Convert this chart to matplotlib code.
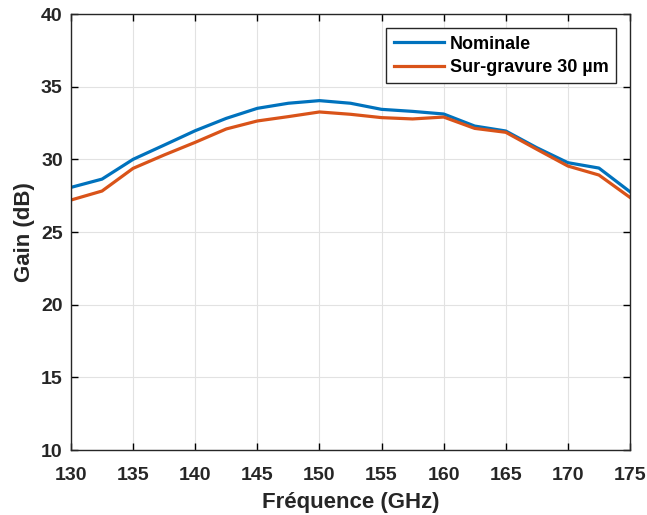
import matplotlib
matplotlib.use("Agg")
import matplotlib.pyplot as plt

freq = [130, 132.5, 135, 137.5, 140, 142.5, 145, 147.5, 150, 152.5,
        155, 157.5, 160, 162.5, 165, 167.5, 170, 172.5, 175]
gain_nominale = [28.07, 28.64, 30.0, 30.98, 31.97, 32.82, 33.51, 33.86, 34.04, 33.86,
                 33.44, 33.3, 33.12, 32.29, 31.95, 30.8, 29.77, 29.4, 27.77]
gain_surgravure = [27.2, 27.82, 29.38, 30.3, 31.17, 32.09, 32.64, 32.94, 33.26, 33.1,
                   32.87, 32.78, 32.91, 32.13, 31.86, 30.69, 29.54, 28.92, 27.38]
labels = ["Nominale", "Sur-gravure 30 µm"]

plt.rcParams["font.family"] = ["Liberation Sans", "DejaVu Sans"]
plt.rcParams["font.weight"] = "bold"

fig = plt.figure(figsize=(6.47, 5.15), dpi=100)
ax = fig.add_axes([0.1097, 0.1262, 0.8640, 0.8466])

ax.plot(freq, gain_nominale, color="#0072BD", lw=2.3, label=labels[0])
ax.plot(freq, gain_surgravure, color="#D95319", lw=2.3, label=labels[1])

ax.set_xlim(130, 175)
ax.set_ylim(10, 40)
ax.set_xticks(range(130, 176, 5))
ax.set_yticks(range(10, 41, 5))
ax.grid(True, color="#e2e2e2", lw=0.8)
ax.tick_params(direction="in", top=True, right=True, labelsize=14, length=5, width=1,
               labelcolor="#262626")
ax.tick_params(axis="x", pad=12)
ax.tick_params(axis="y", pad=6)
for s in ax.spines.values():
    s.set_color("#262626")
    s.set_linewidth(1)

ax.set_xlabel("Fréquence (GHz)", fontsize=16, fontweight="bold", labelpad=6, color="#262626")
ax.set_ylabel("Gain (dB)", fontsize=16, fontweight="bold", labelpad=4, color="#262626")

leg = ax.legend(loc="upper right", fancybox=False, framealpha=1,
                edgecolor="#262626", handlelength=2.8, handletextpad=0.3,
                labelspacing=0.35, borderaxespad=0.8,
                prop={"weight": "bold", "size": 13})
leg.get_frame().set_linewidth(1)

fig.savefig("out.png", dpi=100)
